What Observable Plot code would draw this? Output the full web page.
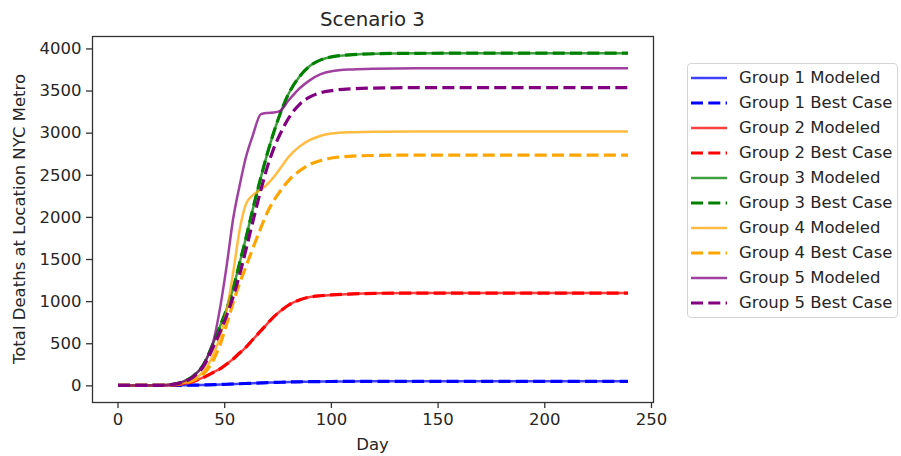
<!DOCTYPE html>
<html>
<head>
<meta charset="utf-8">
<script src="https://cdn.jsdelivr.net/npm/d3@7"></script>
<script src="https://cdn.jsdelivr.net/npm/@observablehq/plot@0.6"></script>
<style>
  html, body { margin: 0; padding: 0; background: white; }
  #wrap { position: relative; width: 901px; height: 456px; font-family: "DejaVu Sans", sans-serif; color: #262626; }
  .lbl { position: absolute; white-space: nowrap; }
</style>
</head>
<body>
<div id="wrap"></div>
<script>
// ---- data ----
const titleText = "Scenario 3";
const xLabel = "Day";
const yLabel = "Total Deaths at Location NYC Metro";
const xTicks = [0, 50, 100, 150, 200, 250];
const yTicks = [0, 500, 1000, 1500, 2000, 2500, 3000, 3500, 4000];

const days = [0, 20, 25, 30, 35, 40, 45, 48, 51, 54, 57, 60, 63, 67, 70, 73, 76, 80, 85, 90, 95, 100, 110, 120, 140, 180, 239];

const g1Modeled = [5, 5, 6, 7, 9, 11, 14, 16, 19, 22, 25, 28, 31, 35, 38, 41, 43, 46, 48, 50, 51, 52, 53, 54, 54, 54, 54];
const g1Best    = [5, 5, 6, 7, 9, 11, 14, 16, 19, 22, 25, 28, 31, 35, 38, 41, 43, 46, 48, 50, 51, 52, 53, 54, 54, 54, 54];
const g2Modeled = [5, 6, 10, 20, 50, 100, 165, 205, 260, 320, 390, 460, 545, 655, 740, 820, 885, 960, 1020, 1055, 1070, 1080, 1092, 1098, 1102, 1102, 1102];
const g2Best    = [5, 6, 10, 20, 50, 100, 165, 205, 260, 320, 390, 460, 545, 655, 740, 820, 885, 960, 1020, 1055, 1070, 1080, 1092, 1098, 1102, 1102, 1102];
const g3Modeled = [5, 6, 15, 45, 110, 250, 530, 720, 920, 1160, 1460, 1760, 2080, 2480, 2760, 3010, 3230, 3470, 3670, 3800, 3870, 3905, 3932, 3943, 3948, 3950, 3950];
const g3Best    = [5, 6, 15, 45, 110, 250, 530, 720, 920, 1160, 1460, 1760, 2080, 2480, 2760, 3010, 3230, 3470, 3670, 3800, 3870, 3905, 3932, 3943, 3948, 3950, 3950];
const g4Modeled = [5, 6, 12, 30, 70, 170, 390, 600, 900, 1350, 1850, 2160, 2260, 2330, 2395, 2480, 2580, 2720, 2840, 2920, 2970, 2995, 3012, 3018, 3020, 3020, 3020];
const g4Best    = [5, 6, 10, 25, 60, 140, 320, 500, 740, 990, 1220, 1420, 1620, 1880, 2060, 2200, 2310, 2440, 2550, 2630, 2675, 2705, 2727, 2735, 2740, 2740, 2740];
const g5Modeled = [5, 6, 15, 45, 110, 250, 560, 950, 1440, 1990, 2380, 2720, 2960, 3225, 3240, 3245, 3265, 3390, 3530, 3630, 3700, 3735, 3757, 3765, 3770, 3770, 3770];
const g5Best    = [5, 6, 14, 40, 100, 230, 480, 650, 840, 1060, 1320, 1620, 1930, 2330, 2600, 2820, 2990, 3180, 3340, 3430, 3480, 3505, 3527, 3535, 3540, 3540, 3540];

const groupNames = ["Group 1", "Group 2", "Group 3", "Group 4", "Group 5"];
const groupColors = ["blue", "red", "green", "orange", "purple"];
const modeledSeries = [g1Modeled, g2Modeled, g3Modeled, g4Modeled, g5Modeled];
const bestSeries = [g1Best, g2Best, g3Best, g4Best, g5Best];

// ---- styles ----
const modeledStyle = { strokeWidth: 2.5, strokeOpacity: 0.75, dash: null };
const bestStyle = { strokeWidth: 3.2, strokeOpacity: 1, dash: "12,5.3" };

// ---- build series list in matplotlib draw order ----
const seriesList = [];
groupNames.forEach((g, i) => {
  seriesList.push({ name: g + " Modeled", color: groupColors[i], values: modeledSeries[i], style: modeledStyle });
  seriesList.push({ name: g + " Best Case", color: groupColors[i], values: bestSeries[i], style: bestStyle });
});

const xMin = 0, xMax = 239;
const xPad = (xMax - xMin) * 0.05;
const yMaxData = d3.max(seriesList, s => d3.max(s.values));
const yPad = yMaxData * 0.05;

const marks = seriesList.map(s => Plot.line(
  days.map((d, i) => ({ day: d, value: s.values[i] })),
  {
    x: "day", y: "value",
    stroke: s.color,
    strokeWidth: s.style.strokeWidth,
    strokeOpacity: s.style.strokeOpacity,
    strokeDasharray: s.style.dash,
    strokeLinecap: "butt",
    curve: "monotone-x"
  }
));

const chart = Plot.plot({
  width: 901,
  height: 456,
  marginLeft: 92,
  marginRight: 248,
  marginTop: 36,
  marginBottom: 54,
  style: { fontFamily: "DejaVu Sans, sans-serif", background: "white", color: "#262626", overflow: "visible" },
  x: { domain: [xMin - xPad, xMax + xPad] },
  y: { domain: [-yPad, yMaxData + yPad] },
  marks: [
    ...marks,
    Plot.frame({ stroke: "#333", strokeWidth: 1.3 }),
    Plot.axisX({ ticks: xTicks, tickSize: 6, tickPadding: 5, fontSize: 16.5, label: null, stroke: "#333", strokeWidth: 1.3 }),
    Plot.axisY({ ticks: yTicks, tickSize: 6, tickPadding: 5, fontSize: 16.5, label: null, tickFormat: d3.format("d"), stroke: "#333", strokeWidth: 1.3 })
  ]
});

const wrap = document.getElementById("wrap");
wrap.appendChild(chart);
chart.style.position = "absolute";
chart.style.left = "0px";
chart.style.top = "0px";

// ---- title and axis labels ----
const frameCenterX = (92 + (901 - 248)) / 2;
const frameCenterY = (36 + (456 - 54)) / 2;

function addLabel(text, css) {
  const el = document.createElement("div");
  el.className = "lbl";
  el.textContent = text;
  Object.assign(el.style, css);
  wrap.appendChild(el);
  return el;
}
addLabel(titleText, { fontSize: "19.8px", top: "8px", left: frameCenterX + "px", transform: "translateX(-50%)", lineHeight: "24px" });
addLabel(xLabel, { fontSize: "16.5px", top: "435px", left: frameCenterX + "px", transform: "translateX(-50%)", lineHeight: "20px" });
addLabel(yLabel, { fontSize: "16.5px", top: frameCenterY + "px", left: "20px", transform: "translate(-50%, -50%) rotate(-90deg)", lineHeight: "20px" });

// ---- legend ----
const legend = document.createElement("div");
Object.assign(legend.style, {
  position: "absolute", left: "687px", top: "63px", width: "211px", height: "255px",
  border: "1px solid #d5d5d5", borderRadius: "4px", background: "rgba(255,255,255,0.8)", boxSizing: "border-box"
});
wrap.appendChild(legend);
seriesList.forEach((s, i) => {
  const cy = 78.3 + 25 * i;
  const svgNS = "http://www.w3.org/2000/svg";
  const sw = document.createElementNS(svgNS, "svg");
  sw.setAttribute("width", "40");
  sw.setAttribute("height", "10");
  Object.assign(sw.style, { position: "absolute", left: "690px", top: (cy - 5) + "px" });
  const ln = document.createElementNS(svgNS, "line");
  ln.setAttribute("x1", "1"); ln.setAttribute("x2", "37");
  ln.setAttribute("y1", "5"); ln.setAttribute("y2", "5");
  ln.setAttribute("stroke", s.color);
  ln.setAttribute("stroke-width", s.style.strokeWidth);
  ln.setAttribute("stroke-opacity", s.style.strokeOpacity);
  if (s.style.dash) ln.setAttribute("stroke-dasharray", s.style.dash);
  sw.appendChild(ln);
  wrap.appendChild(sw);
  addLabel(s.name, { fontSize: "16.5px", left: "739px", top: (cy - 10) + "px", lineHeight: "20px" });
});
</script>
</body>
</html>
